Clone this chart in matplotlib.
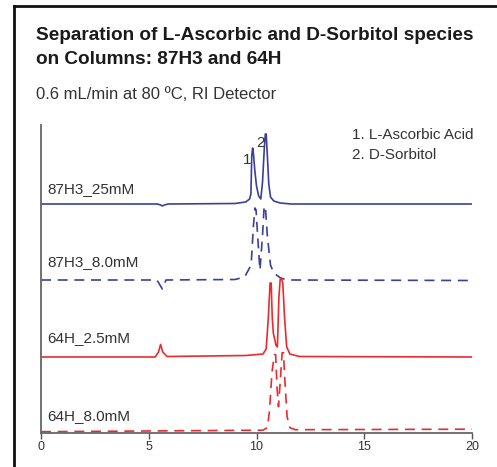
import numpy as np
import matplotlib.pyplot as plt
from matplotlib.lines import Line2D
from matplotlib import font_manager

# --- data (time in min, response above baseline) ---
names = ['87H3_25mM', '87H3_8.0mM', '64H_2.5mM', '64H_8.0mM']

t_a = [0, 5.4, 5.55, 5.63, 5.72, 5.9, 9.0, 9.5, 9.68, 9.74, 9.78, 9.82, 9.86, 9.92,
       10.0, 10.1, 10.2, 10.28, 10.36, 10.41, 10.45, 10.5, 10.57, 10.65, 10.8, 11.1, 11.6, 20]
y_a = [0, 0, -1, -2, -1, 0, 0.5, 2, 5, 10, 48, 56, 50, 34,
       18, 8, 5, 22, 55, 70, 70, 50, 20, 7, 3, 1, 0, 0]

t_b = [0, 5.38, 5.63, 5.8, 9.0, 9.45, 9.75, 9.86, 9.93, 9.98, 10.05, 10.16, 10.28, 10.35,
       10.41, 10.5, 10.65, 10.8, 11.15, 11.6, 20]
y_b = [0, 0, -9, 0, 0.5, 3, 15, 55, 72, 70, 45, 10, 45, 72,
       74, 45, 15, 7, 1.5, 0, -0.5]

t_c = [0, 5.3, 5.45, 5.55, 5.65, 5.85, 9.5, 10.3, 10.45, 10.55, 10.63, 10.68, 10.73, 10.78,
       10.9, 10.97, 11.04, 11.1, 11.16, 11.22, 11.3, 11.4, 11.55, 12.0, 20]
y_c = [0, 0, 5, 12.5, 5, 0.5, 1.5, 3, 8, 40, 74, 74, 40, 24,
       12, 10, 60, 78, 79, 74, 40, 10, 3, 0.5, 0]

t_d = [0, 10.3, 10.5, 10.6, 10.72, 10.83, 10.89, 10.95, 11.02, 11.1, 11.19, 11.25, 11.32,
       11.42, 11.55, 11.8, 20]
y_d = [0, 1.5, 4, 20, 60, 77, 77, 45, 25, 50, 79, 79, 50, 15, 4, 2, 2.5]

times = [t_a, t_b, t_c, t_d]
resp = [y_a, y_b, y_c, y_d]

peak_labels = ['1', '2']
peak_label_t = [9.56, 10.2]
legend_lines = ['1. L-Ascorbic Acid', '2. D-Sorbitol']
xticks = [0, 5, 10, 15, 20]

# --- styling / layout ---
offsets = [229, 153, 76, 1.3]
label_y = [244, 171, 95, 17]
colors = ['#3c3f98', '#3c3f98', '#ec2a2e', '#ec2a2e']
styles = ['-', (0, (6, 4)), '-', (0, (6, 4))]

avail = {f.name for f in font_manager.fontManager.ttflist}
base_font = 'Liberation Sans' if 'Liberation Sans' in avail else 'DejaVu Sans'
plt.rcParams['font.family'] = base_font

fig = plt.figure(figsize=(4.97, 4.67), dpi=100)
ax = fig.add_axes([41 / 497, 1 - 433 / 467, 431 / 497, 308 / 467])

for t, y, off, c, ls in zip(times, resp, offsets, colors, styles):
    ax.plot(t, np.array(y) + off, color=c, linestyle=ls, lw=1.2)

for name, ly in zip(names, label_y):
    ax.text(0.3, ly, name, fontsize=11, color='#333333', va='center')

ax.text(peak_label_t[0], 273, peak_labels[0], fontsize=11, color='#333333', ha='center', va='center')
ax.text(peak_label_t[1], 290, peak_labels[1], fontsize=11, color='#333333', ha='center', va='center')
ax.text(14.42, 298, legend_lines[0], fontsize=11, color='#333333', va='center')
ax.text(14.42, 278, legend_lines[1], fontsize=11, color='#333333', va='center')

ax.set_xlim(0, 20)
ax.set_ylim(0, 308)
ax.set_xticks(xticks)
ax.set_yticks([])
ax.tick_params(axis='x', direction='out', length=4, width=1, color='#555555',
               labelsize=9, labelcolor='#333333', pad=2)
for s in ['top', 'right']:
    ax.spines[s].set_visible(False)
for s in ['left', 'bottom']:
    ax.spines[s].set_color('#666666')
    ax.spines[s].set_linewidth(1.3)

fig.text(36 / 497, 1 - 40 / 467, 'Separation of L-Ascorbic and D-Sorbitol species',
         fontsize=13.7, fontweight='bold', color='#1a1a1a')
fig.text(36 / 497, 1 - 64 / 467, 'on Columns: 87H3 and 64H',
         fontsize=13.7, fontweight='bold', color='#1a1a1a')
fig.text(36 / 497, 1 - 99 / 467, '0.6 mL/min at 80 ºC, RI Detector',
         fontsize=12, color='#333333')

# outer frame (only top and left edges show)
fig.add_artist(Line2D([13.5 / 497, 13.5 / 497], [0, 1 - 5.5 / 467], transform=fig.transFigure,
                      color='#111111', lw=2))
fig.add_artist(Line2D([13.5 / 497, 1], [1 - 5.5 / 467, 1 - 5.5 / 467], transform=fig.transFigure,
                      color='#111111', lw=2))

fig.savefig('out.png', dpi=100)
